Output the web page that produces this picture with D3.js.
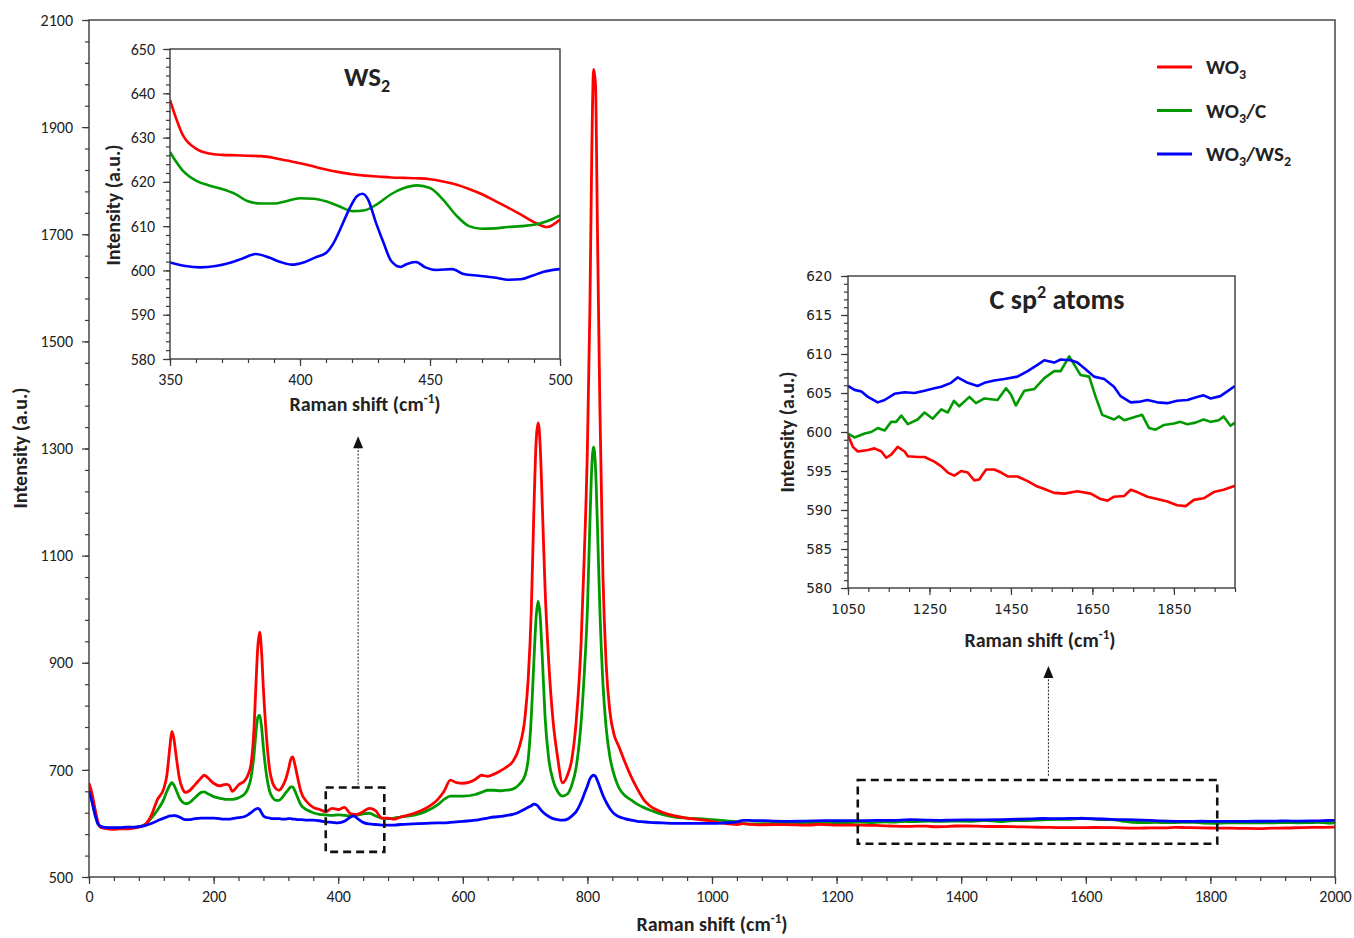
<!DOCTYPE html>
<html><head><meta charset="utf-8">
<script src="https://cdn.jsdelivr.net/npm/d3@7"></script>
<style>
body{margin:0;background:#fff;}
text{fill:#222;}
</style></head>
<body><svg id="c" width="1354" height="938" style="font-family:Carlito,Calibri,Lato,sans-serif"></svg>
<script>
// ---------------- DATA ----------------
const seriesNames = ["WO3", "WO3/C", "WO3/WS2"];
const seriesColors = ["#ff0000", "#009a00", "#0000ff"];

// main spectrum grid (Raman shift, cm-1)
const mainX = [0,5,10,15,20,30,40,50,60,70,80,90,100,110,120,125,130,133,136,140,145,150,155,160,170,180,185,190,200,210,215,220,225,230,235,240,250,255,260,265,268,271,274,277,280,285,290,295,300,305,310,315,320,324,327,330,335,340,350,360,370,380,390,400,410,420,425,430,440,450,460,470,480,490,500,520,540,560,570,580,590,600,620,630,640,650,660,670,680,690,700,705,710,714,718,721,724,728,732,738,745,752,760,768,775,782,790,795,800,804,807,810,813,816,820,825,830,836,843,850,860,870,880,890,900,920,940,960,980,1000,1020,1040];
const mainWO3 = [675,655,625,600,592,590,589,590,590,591,593,598,615,645,665,690,745,772,760,725,685,665,658,660,672,685,690,686,675,670,672,673,671,660,665,672,680,690,710,780,860,930,957,920,850,760,700,675,665,662,668,680,700,720,724,712,685,660,640,630,626,622,628,626,630,618,617,617,622,628,624,610,610,608,612,618,628,645,660,681,676,675,682,690,688,692,698,705,715,740,800,870,1000,1180,1320,1348,1310,1180,1040,900,790,725,676,690,720,790,940,1100,1300,1560,1850,2008,1980,1720,1380,1060,900,810,765,745,715,688,665,645,633,621,614,610,607,604,600,598];
const mainWO3C = [665,640,615,598,593,591,591,591,591,592,594,598,610,625,645,660,672,676,672,662,648,640,637,638,648,658,659,656,650,647,646,645,645,645,646,648,655,665,685,730,770,798,802,780,740,690,660,648,643,643,648,656,663,668,668,662,648,635,625,620,617,616,615,616,615,614,614,615,618,619,614,610,609,610,612,615,622,635,645,651,651,651,654,658,662,662,661,662,664,672,690,720,800,900,990,1015,990,900,800,720,680,660,651,655,672,705,790,880,1000,1160,1265,1303,1265,1160,1000,860,780,725,690,668,652,644,636,630,625,617,612,610,609,607,605,603];
const mainWO3WS2 = [660,640,615,598,594,592,592,592,593,593,594,596,600,605,610,612,614,614,615,614,612,609,607,607,609,610,610,610,610,609,608,608,608,609,610,611,613,616,620,625,627,628,626,620,614,611,610,609,609,609,608,608,609,609,608,608,607,607,606,606,605,603,602,601,604,612,614,610,602,599,598,597,597,597,598,599,600,601,601,602,603,604,606,608,610,612,613,615,617,621,627,630,633,636,635,632,627,622,618,613,609,607,606,608,614,622,640,655,670,683,688,690,688,680,668,652,640,628,618,613,609,606,604,603,602,601,600,600,600,600,601,603];

// inset "WS2" (350-500 cm-1)
const ws2X = [350,355,360,365,370,375,380,385,390,395,400,405,410,415,420,425,430,435,440,445,450,455,460,465,470,475,480,485,490,495,500];
const ws2WO3 = [638.5,630.5,627.5,626.4,626.1,626,625.9,625.8,625.4,624.8,624.2,623.5,622.8,622.2,621.7,621.4,621.2,621.0,620.9,620.8,620.6,620.1,619.4,618.4,617.2,615.7,614.2,612.6,610.9,609.8,611.5];
const ws2WO3C = [626.7,622.5,620.3,619.2,618.4,617.3,615.6,615.1,615.1,615.7,616.3,616.2,615.6,614.5,613.4,613.6,615.1,617.2,618.6,619.2,618.6,616,612.5,610,609.4,609.5,609.8,610,610.3,611.1,612.4];
const ws2BlueX = [350,355.9,361.7,367.6,373.5,377.9,383,388.1,392.5,396.9,401.3,405.7,410.1,413,416,418.9,421.8,424,426.2,429.2,432.1,435,438.7,440.9,444.6,448.2,452.6,458.5,462.9,468.8,474.6,480.5,484.9,489.3,493.7,500];
const ws2WO3WS2 = [601.8,601,600.7,601,601.8,602.7,603.7,602.9,601.9,601.3,601.8,602.9,604,606.3,610,613.8,616.7,617.3,616,610.8,606.3,602.2,600.8,601.4,601.9,600.7,600.1,600.3,599.2,598.8,598.4,597.9,598,598.8,599.7,600.3];

// inset "C sp2 atoms" (1050-2000 cm-1)
const cRedX = [1050,1062,1074,1099,1115,1132,1144,1156,1172,1189,1197,1221,1238,1262,1279,1295,1311,1328,1344,1360,1372,1389,1409,1426,1442,1466,1491,1515,1532,1556,1581,1613,1646,1670,1687,1703,1728,1744,1760,1785,1809,1834,1858,1879,1899,1923,1948,1972,2000];
const cWO3 = [599.6,598.1,597.5,597.7,597.9,597.5,596.7,597.1,598.1,597.5,596.9,596.8,596.8,596.2,595.6,594.8,594.4,595,594.8,593.8,593.9,595.2,595.2,594.8,594.3,594.3,593.7,593,592.7,592.2,592.1,592.4,592.1,591.4,591.2,591.7,591.8,592.6,592.3,591.7,591.4,591.1,590.6,590.5,591.3,591.5,592.3,592.6,593.1];
const cGreenX = [1050,1066,1091,1107,1123,1140,1156,1168,1181,1197,1221,1238,1258,1279,1295,1310,1323,1348,1364,1385,1417,1438,1450,1462,1483,1507,1532,1556,1572,1593,1621,1642,1658,1674,1703,1715,1728,1752,1772,1789,1805,1826,1850,1866,1883,1903,1923,1940,1960,1972,1989,2000];
const cWO3C = [599.8,599.3,599.8,600,600.5,600.2,601.3,601.3,602.1,601,601.6,602.5,601.7,602.9,602.5,604,603.3,604.5,603.7,604.3,604.1,605.6,604.8,603.4,605.3,605.5,606.9,607.8,607.8,609.7,607.3,607.1,604.5,602.2,601.6,602,601.5,601.9,602.2,600.5,600.3,600.9,601.1,601.3,601,601.2,601.6,601.3,601.5,602,600.8,601.2];
const cBlueX = [1050,1066,1083,1099,1123,1140,1164,1189,1213,1238,1262,1279,1303,1319,1344,1368,1385,1409,1434,1466,1491,1515,1532,1556,1572,1597,1613,1634,1654,1679,1703,1719,1744,1768,1785,1809,1834,1858,1883,1907,1923,1940,1964,1981,2000];
const cWO3WS2 = [605.9,605.4,605.2,604.5,603.8,604.1,604.9,605.1,605,605.3,605.6,605.8,606.3,607,606.3,605.9,606.3,606.6,606.8,607.1,607.8,608.6,609.2,608.9,609.3,609.2,608.9,608,607.1,606.8,605.8,604.6,603.8,603.9,604.1,603.8,603.7,604,604.1,604.5,604.7,604.3,604.6,605.2,605.9];

// ticks
const mainXTicks = [0,200,400,600,800,1000,1200,1400,1600,1800,2000];
const mainYTicks = [500,700,900,1100,1300,1500,1700,1900,2100];
const ws2XTicks = [350,400,450,500];
const ws2YTicks = [580,590,600,610,620,630,640,650];
const cXTicks = [1050,1250,1450,1650,1850];
const cYTicks = [580,585,590,595,600,605,610,615,620];

// zoom boxes (data coords of main chart)
const zoomBoxes = [{x0:380,x1:474,y0:547,y1:667, ax:432, ay0:666, ay1:1323},
                   {x0:1234,x1:1811,y0:562,y1:681, ax:1540, ay0:689, ay1:894}];

// ---------------- DRAW ----------------
const svg = d3.select("#c");
const axisColor = "#3a3a3a";
const baseFont = "Carlito,Calibri,Lato,sans-serif";

function styleAxis(g){
  g.select(".domain").remove();
  g.selectAll("line").attr("stroke", axisColor).attr("stroke-width", 1.2);
}

function panel(opts){
  const {x0,x1,y0,y1,xd,yd,xTicks,yTicks,xMinor,yMinor,font,fontSize,xPad,yPad,id} = opts;
  const x = d3.scaleLinear(xd,[x0,x1]);
  const y = d3.scaleLinear(yd,[y1,y0]);
  const g = svg.append("g");
  g.append("rect").attr("x",x0).attr("y",y0).attr("width",x1-x0).attr("height",y1-y0).attr("fill","#fff");
  g.append("g").attr("transform",`translate(0,${y1})`)
    .call(d3.axisBottom(x).tickValues(xMinor).tickSize(4).tickFormat("")).call(styleAxis);
  g.append("g").attr("transform",`translate(${x0},0)`)
    .call(d3.axisLeft(y).tickValues(yMinor).tickSize(4).tickFormat("")).call(styleAxis);
  const ax = g.append("g").attr("transform",`translate(0,${y1})`)
    .call(d3.axisBottom(x).tickValues(xTicks).tickSize(7).tickPadding(xPad).tickFormat(d3.format("d"))).call(styleAxis);
  const ay = g.append("g").attr("transform",`translate(${x0},0)`)
    .call(d3.axisLeft(y).tickValues(yTicks).tickSize(7).tickPadding(yPad).tickFormat(d3.format("d"))).call(styleAxis);
  [ax,ay].forEach(a=>{a.attr("font-family",null).attr("font-size",null);
    a.selectAll("text").style("font-family",font).style("font-size",fontSize+"px").attr("fill","#222");});
  g.append("clipPath").attr("id",id).append("rect").attr("x",x0).attr("y",y0).attr("width",x1-x0).attr("height",y1-y0);
  const lines = g.append("g").attr("clip-path",`url(#${id})`);
  const frame = ()=>g.append("rect").attr("x",x0).attr("y",y0).attr("width",x1-x0).attr("height",y1-y0)
    .attr("fill","none").attr("stroke",axisColor).attr("stroke-width",1.4);
  return {x,y,g,lines,frame};
}

function addTitle(g, xc, yc, parts, size, rotate){
  const t = g.append("text").attr("text-anchor","middle").attr("font-weight","bold")
    .attr("font-size",size).attr("transform",`translate(${xc},${yc})${rotate?" rotate(-90)":""}`);
  parts.forEach(p=>{
    const s = t.append("tspan").text(p.t);
    if(p.sup){ s.attr("font-size",size*0.65).attr("dy",-size*0.4); }
    if(p.back){ s.attr("dy",p.back); }
  });
  return t;
}

// ---- main chart
const M = panel({x0:89,x1:1335,y0:20,y1:877,xd:[0,2000],yd:[500,2100],
  xTicks:mainXTicks,yTicks:mainYTicks,xMinor:d3.range(0,2001,40),yMinor:d3.range(500,2101,40),
  font:baseFont,fontSize:16,xPad:7,yPad:9,id:"clipMain"});

const mainData = [
  {x:mainX.concat(cRedX), y:mainWO3.concat(cWO3)},
  {x:mainX.concat(cGreenX), y:mainWO3C.concat(cWO3C)},
  {x:mainX.concat(cBlueX), y:mainWO3WS2.concat(cWO3WS2)}
];
const drawOrder = [1,0,2];
drawOrder.forEach(i=>{
  const d = mainData[i].x.map((xv,k)=>[xv,mainData[i].y[k]]).filter((p,k,arr)=>k===0||p[0]>arr[k-1][0]);
  M.lines.append("path").datum(d).attr("fill","none").attr("stroke",seriesColors[i]).attr("stroke-width",2.8)
    .attr("stroke-linejoin","round")
    .attr("d",d3.line().x(p=>M.x(p[0])).y(p=>M.y(p[1])).curve(d3.curveMonotoneX));
});
M.frame();

zoomBoxes.forEach(b=>{
  svg.append("rect").attr("x",M.x(b.x0)).attr("y",M.y(b.y1)).attr("width",M.x(b.x1)-M.x(b.x0))
    .attr("height",M.y(b.y0)-M.y(b.y1)).attr("fill","none").attr("stroke","#111").attr("stroke-width",2.6)
    .attr("stroke-dasharray","8,5");
  const xa = M.x(b.ax), ya0 = M.y(b.ay0), ya1 = M.y(b.ay1);
  svg.append("line").attr("x1",xa).attr("x2",xa).attr("y1",ya0).attr("y2",ya1+10)
    .attr("stroke","#222").attr("stroke-width",1).attr("stroke-dasharray","2,1.5");
  svg.append("path").attr("d",`M${xa},${ya1} L${xa-5},${ya1+12} L${xa+5},${ya1+12} Z`).attr("fill","#111");
});

const TS = 20;
addTitle(svg, 712, 931, [{t:"Raman shift (cm"},{t:"-1",sup:true},{t:")",back:TS*0.4}], TS);
addTitle(svg, 27, 448, [{t:"Intensity (a.u.)"}], TS, true);

// legend
seriesNames.forEach((n,i)=>{
  const yy = 67 + i*43.5;
  svg.append("line").attr("x1",1157).attr("x2",1192).attr("y1",yy).attr("y2",yy)
    .attr("stroke",seriesColors[i]).attr("stroke-width",3);
  const t = svg.append("text").attr("x",1206).attr("y",yy+7).attr("font-weight","bold").attr("font-size",21);
  t.append("tspan").text("WO");
  t.append("tspan").text("3").attr("font-size",14).attr("dy",5);
  if(i===1){ t.append("tspan").text("/C").attr("dy",-5); }
  if(i===2){ t.append("tspan").text("/WS").attr("dy",-5); t.append("tspan").text("2").attr("font-size",14).attr("dy",5); }
});

// ---- inset WS2
const A = panel({x0:170,x1:560,y0:49,y1:359,xd:[350,500],yd:[580,650],
  xTicks:ws2XTicks,yTicks:ws2YTicks,xMinor:d3.range(350,501,10),yMinor:d3.range(580,651,2),
  font:baseFont,fontSize:16,xPad:8,yPad:8,id:"clipA"});
const ws2Data = [[ws2X,ws2WO3],[ws2X,ws2WO3C],[ws2BlueX,ws2WO3WS2]];
ws2Data.forEach((s,i)=>{
  const d = s[0].map((xv,k)=>[xv,s[1][k]]);
  A.lines.append("path").datum(d).attr("fill","none").attr("stroke",seriesColors[i]).attr("stroke-width",2.6)
    .attr("d",d3.line().x(p=>A.x(p[0])).y(p=>A.y(p[1])).curve(d3.curveMonotoneX));
});
A.frame();
addTitle(svg, 365, 411, [{t:"Raman shift (cm"},{t:"-1",sup:true},{t:")",back:TS*0.4}], TS);
addTitle(svg, 120, 205, [{t:"Intensity (a.u.)"}], TS, true);
const tA = svg.append("text").attr("x",367).attr("y",86).attr("text-anchor","middle").attr("font-weight","bold").attr("font-size",27);
tA.append("tspan").text("WS"); tA.append("tspan").text("2").attr("font-size",18).attr("dy",6);

// ---- inset C sp2
const B = panel({x0:848,x1:1235,y0:276,y1:588,xd:[1050,2000],yd:[580,620],
  xTicks:cXTicks,yTicks:cYTicks,xMinor:d3.range(1050,2001,50),yMinor:d3.range(580,621,1),
  font:"'DejaVu Sans',Verdana,sans-serif",fontSize:13.5,xPad:9,yPad:9,id:"clipB"});
const cData = [[cRedX,cWO3],[cGreenX,cWO3C],[cBlueX,cWO3WS2]];
cData.forEach((s,i)=>{
  const d = s[0].map((xv,k)=>[xv,s[1][k]]);
  B.lines.append("path").datum(d).attr("fill","none").attr("stroke",seriesColors[i]).attr("stroke-width",2.6)
    .attr("stroke-linejoin","round")
    .attr("d",d3.line().x(p=>B.x(p[0])).y(p=>B.y(p[1])));
});
B.frame();
addTitle(svg, 1040, 647, [{t:"Raman shift (cm"},{t:"-1",sup:true},{t:")",back:TS*0.4}], TS);
addTitle(svg, 794, 432, [{t:"Intensity (a.u.)"}], TS, true);
const tB = svg.append("text").attr("x",1057).attr("y",309).attr("text-anchor","middle").attr("font-weight","bold").attr("font-size",28);
tB.append("tspan").text("C sp"); tB.append("tspan").text("2").attr("font-size",18).attr("dy",-11);
tB.append("tspan").text(" atoms").attr("dy",11);
</script></body></html>
